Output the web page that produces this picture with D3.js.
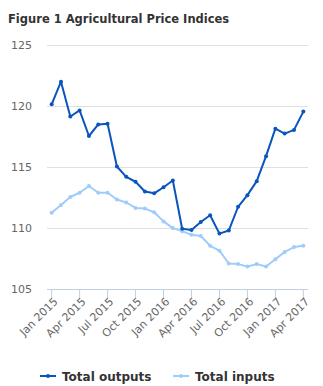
<!DOCTYPE html>
<html>
<head>
<meta charset="utf-8">
<script src="https://cdn.jsdelivr.net/npm/d3@7"></script>
<style>
  html, body { margin: 0; padding: 0; background: #fff; }
  svg { display: block; font-family: "DejaVu Sans", sans-serif; }
</style>
</head>
<body>
<svg id="chart" width="323" height="386"></svg>
<script>
// Monthly categories, Jan 2015 – Apr 2017
const months = [
  "Jan 2015","Feb 2015","Mar 2015","Apr 2015","May 2015","Jun 2015","Jul 2015","Aug 2015","Sep 2015","Oct 2015","Nov 2015","Dec 2015",
  "Jan 2016","Feb 2016","Mar 2016","Apr 2016","May 2016","Jun 2016","Jul 2016","Aug 2016","Sep 2016","Oct 2016","Nov 2016","Dec 2016",
  "Jan 2017","Feb 2017","Mar 2017","Apr 2017"
];
const totalOutputs = [
  120.1, 121.95, 119.1, 119.6, 117.5, 118.45, 118.5, 115.0, 114.15, 113.75, 112.95, 112.8,
  113.3, 113.85, 109.9, 109.8, 110.45, 111.0, 109.5, 109.75, 111.7, 112.65, 113.8, 115.85,
  118.1, 117.7, 118.0, 119.5
];
const totalInputs = [
  111.2, 111.85, 112.5, 112.85, 113.4, 112.85, 112.85, 112.3, 112.05, 111.6, 111.55, 111.25,
  110.5, 109.95, 109.7, 109.4, 109.3, 108.5, 108.1, 107.05, 107.0, 106.8, 107.0, 106.8,
  107.4, 108.0, 108.4, 108.5
];
const yTicks = [105, 110, 115, 120, 125];
const xTickLabels = ["Jan 2015","Apr 2015","Jul 2015","Oct 2015","Jan 2016","Apr 2016","Jul 2016","Oct 2016","Jan 2017","Apr 2017"];

const series = [
  { name: "Total outputs", values: totalOutputs, color: "#0a55bd" },
  { name: "Total inputs",  values: totalInputs,  color: "#9fcdfb" }
];

const svg = d3.select("#chart");
const plot = { left: 47, right: 308, top: 44.5, bottom: 288.5 };

const x = d3.scaleBand().domain(months).range([plot.left, plot.right]);
const xc = d => x(d) + x.bandwidth() / 2;
const y = d3.scaleLinear().domain([105, 125]).range([plot.bottom, plot.top]);

// Title
svg.append("text")
  .attr("x", 8).attr("y", 23)
  .attr("font-size", 11.5).attr("font-weight", "bold")
  .attr("fill", "#333")
  .text("Figure 1 Agricultural Price Indices");

// Horizontal grid lines
svg.append("g")
  .selectAll("line")
  .data(yTicks.filter(t => t !== 105))
  .join("line")
  .attr("x1", plot.left).attr("x2", plot.right)
  .attr("y1", d => Math.round(y(d)) + 0.5).attr("y2", d => Math.round(y(d)) + 0.5)
  .attr("stroke", "#e0e0e0").attr("stroke-width", 1);

// Y axis labels
const yAxis = d3.axisLeft(y).tickValues(yTicks).tickSize(0).tickPadding(0).tickFormat(d3.format("d"));
const gy = svg.append("g").attr("transform", `translate(${plot.left - 15},0)`).call(yAxis);
gy.select(".domain").remove();
gy.selectAll("text").attr("font-size", 11).attr("fill", "#666").attr("font-family", "DejaVu Sans, sans-serif");

// X axis
const xAxis = d3.axisBottom(x).tickValues(xTickLabels).tickSize(9).tickSizeOuter(0).tickPadding(4);
const gx = svg.append("g").attr("transform", `translate(0,${Math.round(plot.bottom) + 0.5})`).call(xAxis);
gx.select(".domain").attr("stroke", "#c0d0e0").attr("d", `M${plot.left},0H${plot.right}`);
gx.selectAll(".tick line").attr("stroke", "#c0d0e0");
gx.selectAll(".tick text")
  .attr("font-size", 11).attr("fill", "#666").attr("font-family", "DejaVu Sans, sans-serif")
  .attr("text-anchor", "end")
  .attr("dy", "0.35em")
  .attr("transform", "translate(4,10) rotate(-45)")
  .attr("x", 0).attr("y", 0);

// Lines and markers
const line = d3.line().x((d, i) => xc(months[i])).y(d => y(d));
series.slice().reverse().forEach(s => {
  const g = svg.append("g");
  g.append("path")
    .datum(s.values)
    .attr("d", line)
    .attr("fill", "none")
    .attr("stroke", s.color)
    .attr("stroke-width", 2)
    .attr("stroke-linejoin", "round");
  g.selectAll("circle")
    .data(s.values)
    .join("circle")
    .attr("cx", (d, i) => xc(months[i]))
    .attr("cy", d => y(d))
    .attr("r", 2)
    .attr("fill", s.color);
});

// Legend
const legend = svg.append("g").attr("transform", "translate(0,376)");
const legendX = [40, 173];
series.forEach((s, i) => {
  const g = legend.append("g").attr("transform", `translate(${legendX[i]},0)`);
  g.append("line").attr("x1", 0).attr("x2", 16).attr("y1", 0).attr("y2", 0)
    .attr("stroke", s.color).attr("stroke-width", 2);
  g.append("circle").attr("cx", 8).attr("cy", 0).attr("r", 2).attr("fill", s.color);
  g.append("text").attr("x", 22).attr("y", 4.5)
    .attr("font-size", 12).attr("font-weight", "bold").attr("fill", "#333")
    .text(s.name);
});
</script>
</body>
</html>
